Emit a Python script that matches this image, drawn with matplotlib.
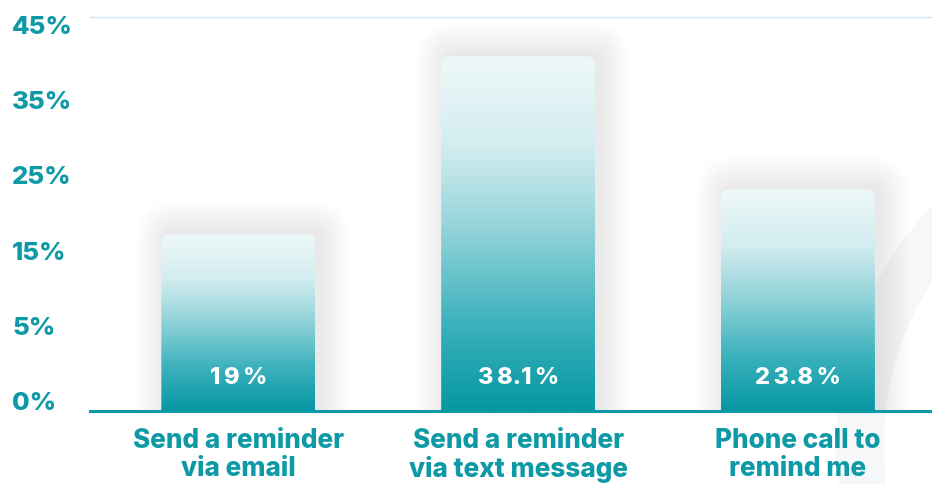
import numpy as np
import matplotlib
matplotlib.use("Agg")
import matplotlib.pyplot as plt
from matplotlib.patches import FancyBboxPatch, Arc
from matplotlib.colors import LinearSegmentedColormap
import matplotlib.transforms as mtransforms

categories = ["Send a reminder\nvia email", "Send a reminder\nvia text message", "Phone call to\nremind me"]
values = [19.0, 38.1, 23.8]
ytick_labels = ["0%", "5%", "15%", "25%", "35%", "45%"]

TEAL = "#0d9aa6"
FONT = ["Inter", "DejaVu Sans"]
WEIGHT = "heavy"

W, H = 932, 484
fig = plt.figure(figsize=(W / 100, H / 100), dpi=100)
fig.patch.set_facecolor("white")

# faint background arc (decor)
bg = fig.add_axes([0, 0, 1, 1], zorder=0)
bg.set_xlim(0, W); bg.set_ylim(0, H); bg.axis("off")
bg.add_patch(Arc((1180, 40), 640, 640, theta1=95, theta2=200, lw=34, color="#f5f7f8"))

ax_left, ax_right, ax_bottom, ax_top = 90, 932, 411, 17
ax = fig.add_axes([ax_left / W, (H - ax_bottom) / H, (ax_right - ax_left) / W, (ax_bottom - ax_top) / H], zorder=1)
ax.patch.set_alpha(0)
ymax = 42.3
ax.set_ylim(0, ymax)
x = np.arange(len(values))
ax.set_xlim(-0.53, 2.479)
for s in ax.spines.values():
    s.set_visible(False)

px_x = (ax_right - ax_left) / (ax.get_xlim()[1] - ax.get_xlim()[0])
px_y = (ax_bottom - ax_top) / ymax
asp = px_x / px_y
bw = 0.55
r = 9 / px_x

cmap = LinearSegmentedColormap.from_list("g", ["#0597a3", "#3db2bd", "#8fd2d8", "#d3edf0", "#eef8f9"])
grad = np.linspace(0, 1, 256)[::-1].reshape(-1, 1)

for xi, v in zip(x, values):
    # soft shadow
    n = 22
    for k in range(n):
        pad_px = 1 + k * 1.4
        sh = FancyBboxPatch((xi - bw / 2 + 5 / px_x, -2), bw, v + 2 + 3 / px_y,
                            boxstyle=f"round,pad={pad_px / px_x},rounding_size={r + pad_px / px_x}",
                            mutation_aspect=asp, fc="#000000", ec="none", alpha=0.0045, zorder=1)
        ax.add_patch(sh)
    bar = FancyBboxPatch((xi - bw / 2, -2), bw, v + 2,
                         boxstyle=f"round,pad=0,rounding_size={r}",
                         mutation_aspect=asp, fc="none", ec="none", zorder=2)
    ax.add_patch(bar)
    im = ax.imshow(grad, cmap=cmap, aspect="auto", extent=(xi - bw / 2, xi + bw / 2, 0, v),
                   zorder=2, interpolation="bilinear")
    im.set_clip_path(bar)
    ax.text(xi, 3.5, " ".join(f"{v:g}%").replace(" . ", ".").replace(" ", "\u2009"),
            ha="center", va="center", color="white",
            fontsize=17, fontweight=WEIGHT, family=FONT, zorder=5)

ax.axhline(0, color=TEAL, lw=2.2, zorder=1.5, clip_on=False)
ax.axhline(ymax, color="#c8eaed", lw=1, zorder=1, clip_on=False)

ax.set_xticks(x)
ax.set_xticklabels(categories, color=TEAL, fontsize=18.8, fontweight=WEIGHT, family=FONT, linespacing=1.12)
ax.tick_params(axis="x", length=0, pad=12)
ax.set_yticks([])

ttrans = mtransforms.blended_transform_factory(fig.transFigure, ax.transData)
ypos = np.linspace((ax_bottom - 404) / px_y, (ax_bottom - 27) / px_y, len(ytick_labels))
for yp, lab in zip(ypos, ytick_labels):
    ax.text(12 / W, yp, lab, transform=ttrans, ha="left", va="center", color=TEAL,
            fontsize=18.5, fontweight=WEIGHT, family=FONT, clip_on=False)

fig.savefig("out.png", dpi=100, facecolor="white")
